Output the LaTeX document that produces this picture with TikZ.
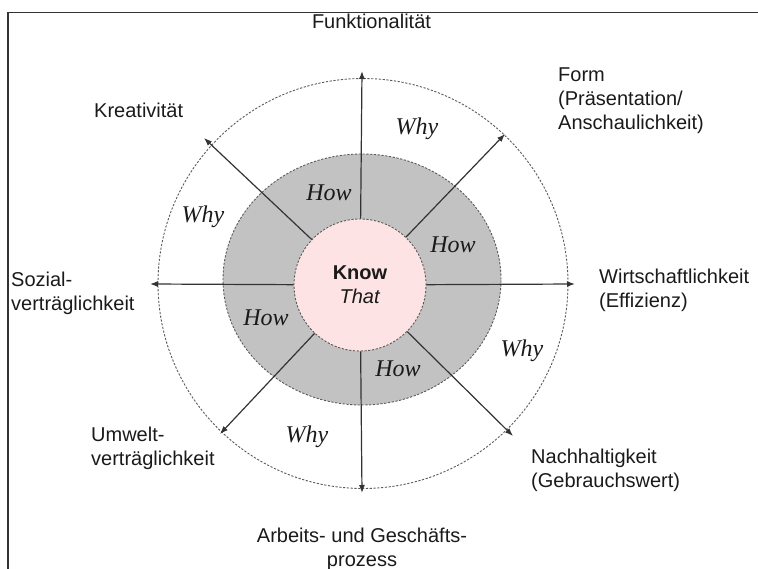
\documentclass[tikz,border=0pt]{standalone}
\usepackage{fontspec}
\setmainfont{Liberation Sans}
\newfontfamily\serifit{Liberation Serif}[ItalicFont=* Italic]
\usetikzlibrary{arrows.meta}
\definecolor{txt}{HTML}{1A1A1A}
\definecolor{linec}{HTML}{333333}
\definecolor{dashc}{HTML}{5A5A5A}
\definecolor{greyfill}{HTML}{C2C2C2}
\definecolor{pinkfill}{HTML}{FDE3E3}
% left-aligned / centred multi-line label whose baseline is its first line
\newcommand{\stackL}[1]{\begin{tabular}[t]{@{}l@{}}#1\end{tabular}}
\newcommand{\stackC}[1]{\begin{tabular}[t]{@{}c@{}}#1\end{tabular}}
\begin{document}
\begin{tikzpicture}[x=1pt,y=-1pt,
  lbl/.style={font=\fontsize{20}{24}\selectfont, text=txt, inner sep=0pt},
  qtext/.style={font=\fontsize{24}{26}\selectfont\serifit\itshape, text=txt, inner sep=0pt, anchor=base},
  ring/.style={draw=dashc, line width=0.9pt, dash pattern=on 2.2pt off 1.6pt},
  axis/.style={draw=linec, line width=1.2pt, -{Latex[length=8pt,width=6pt]}},
  frame/.style={draw=linec, line width=1.3pt}
]
\useasboundingbox (0,0) rectangle (758,569);

% frame edges
\draw[frame] (758,12.5) -- (8,12.5) -- (8,569);

% outer "why" ring and grey "how" ring
\draw[ring] (363,283.5) circle[radius=205pt];
\draw[ring, fill=greyfill] (362,279.5) ellipse[x radius=139pt, y radius=125.5pt];

% central "know that" disc
\node[circle, ring, fill=pinkfill, minimum size=132pt, inner sep=0pt,
      align=center, text=txt, font=\fontsize{20}{24}\selectfont]
  (know) at (360,285) {\textbf{Know}\\\textit{That}};

% arrow tips
\coordinate (tN)  at (362,71);
\coordinate (tS)  at (362,493);
\coordinate (tW)  at (150,284);
\coordinate (tE)  at (575,284);
\coordinate (tNE) at (505,134);
\coordinate (tNW) at (204,138);
\coordinate (tSE) at (513,436);
\coordinate (tSW) at (220,434);

\foreach \t in {tN,tS,tW,tE,tNE,tNW,tSE,tSW}
  \draw[axis] (know) -- (\t);

% ring labels
\node[qtext] (whyN) at (417,135) {Why};
\node[qtext] (whyW) at (203,223) {Why};
\node[qtext] (whyE) at (522,356) {Why};
\node[qtext] (whyS) at (307,442) {Why};
\node[qtext] (howNW) at (329,201) {How};
\node[qtext] (howNE) at (453,253) {How};
\node[qtext] (howW)  at (266,326) {How};
\node[qtext] (howS)  at (398,377) {How};

% dimension labels
\node[lbl, anchor=base] (funk) at (371.5,29) {Funktionalität};
\node[lbl, anchor=base west] (krea) at (94,118) {Kreativität};
\node[lbl, anchor=base west] (form) at (558,82) {\stackL{Form\\(Präsentation/\\Anschaulichkeit)}};
\node[lbl, anchor=base west] (sozi) at (11,287) {\stackL{Sozial-\\verträglichkeit}};
\node[lbl, anchor=base west] (wirt) at (599,284) {\stackL{Wirtschaftlichkeit\\(Effizienz)}};
\node[lbl, anchor=base west] (umwe) at (91,441) {\stackL{Umwelt-\\verträglichkeit}};
\node[lbl, anchor=base west] (nach) at (531,463) {\stackL{Nachhaltigkeit\\(Gebrauchswert)}};
\node[lbl, anchor=base] (arbe) at (362,542) {\stackC{Arbeits- und Geschäfts-\\prozess}};
\end{tikzpicture}
\end{document}
